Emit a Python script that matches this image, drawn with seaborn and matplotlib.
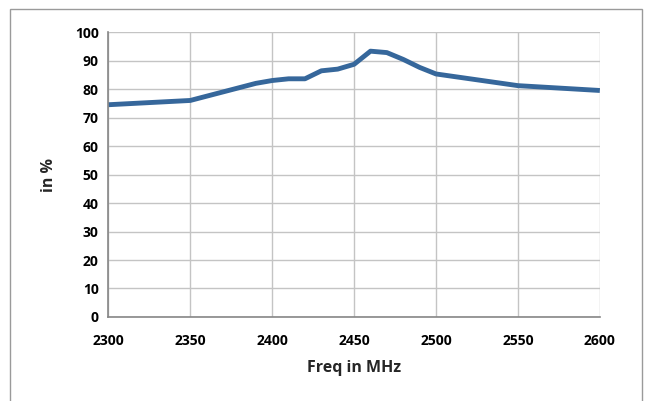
import matplotlib
matplotlib.use("Agg")
import matplotlib.pyplot as plt
from matplotlib.patches import Rectangle
import seaborn as sns
import pandas as pd

freq_mhz = [2300, 2350, 2360, 2370, 2380, 2390, 2400, 2410, 2420, 2430, 2440,
            2450, 2460, 2470, 2480, 2490, 2500, 2550, 2600]
efficiency = [74.5, 76.0, 77.5, 79.0, 80.5, 82.0, 83.0, 83.6, 83.6, 86.4, 87.0,
              88.7, 93.3, 92.8, 90.4, 87.6, 85.3, 81.2, 79.5]
x_ticks = [2300, 2350, 2400, 2450, 2500, 2550, 2600]
y_ticks = [0, 10, 20, 30, 40, 50, 60, 70, 80, 90, 100]

sns.set_style("white")
plt.rcParams["font.family"] = ["Open Sans", "DejaVu Sans"]

df = pd.DataFrame({"freq": freq_mhz, "eff": efficiency})

fig = plt.figure(figsize=(6.45, 4.01), dpi=100)
ax = fig.add_axes([0.168, 0.2095, 0.762, 0.7105])

sns.lineplot(data=df, x="freq", y="eff", ax=ax, color="#36679b",
             linewidth=3.5, solid_joinstyle="round", solid_capstyle="butt")

ax.set_xlim(2300, 2600)
ax.set_ylim(0, 100)
ax.set_xticks(x_ticks)
ax.set_yticks(y_ticks)
ax.grid(True, color="#c4c4c4", linewidth=1.0)
ax.set_axisbelow(True)

for side in ("top", "right"):
    ax.spines[side].set_visible(False)
for side in ("left", "bottom"):
    ax.spines[side].set_color("#868686")
    ax.spines[side].set_linewidth(1.2)

ax.tick_params(axis="both", which="major", direction="out", length=4,
               width=1.0, color="#868686", labelsize=10, labelcolor="black")
ax.tick_params(axis="x", pad=8)
ax.tick_params(axis="y", pad=3)
for lbl in ax.get_xticklabels() + ax.get_yticklabels():
    lbl.set_fontweight("bold")

ax.set_xlabel("Freq in MHz", fontsize=11.5, fontweight="bold", labelpad=9)
ax.set_ylabel("in %", fontsize=11.5, fontweight="bold", labelpad=13)

# outer chart frame
fig.patches.append(Rectangle((10 / 645, -0.1), 632 / 645, 1 - 9 / 401 + 0.1,
                             transform=fig.transFigure, fill=False,
                             edgecolor="#9a9a9a", linewidth=1.0))

fig.savefig("out.png", dpi=100)
